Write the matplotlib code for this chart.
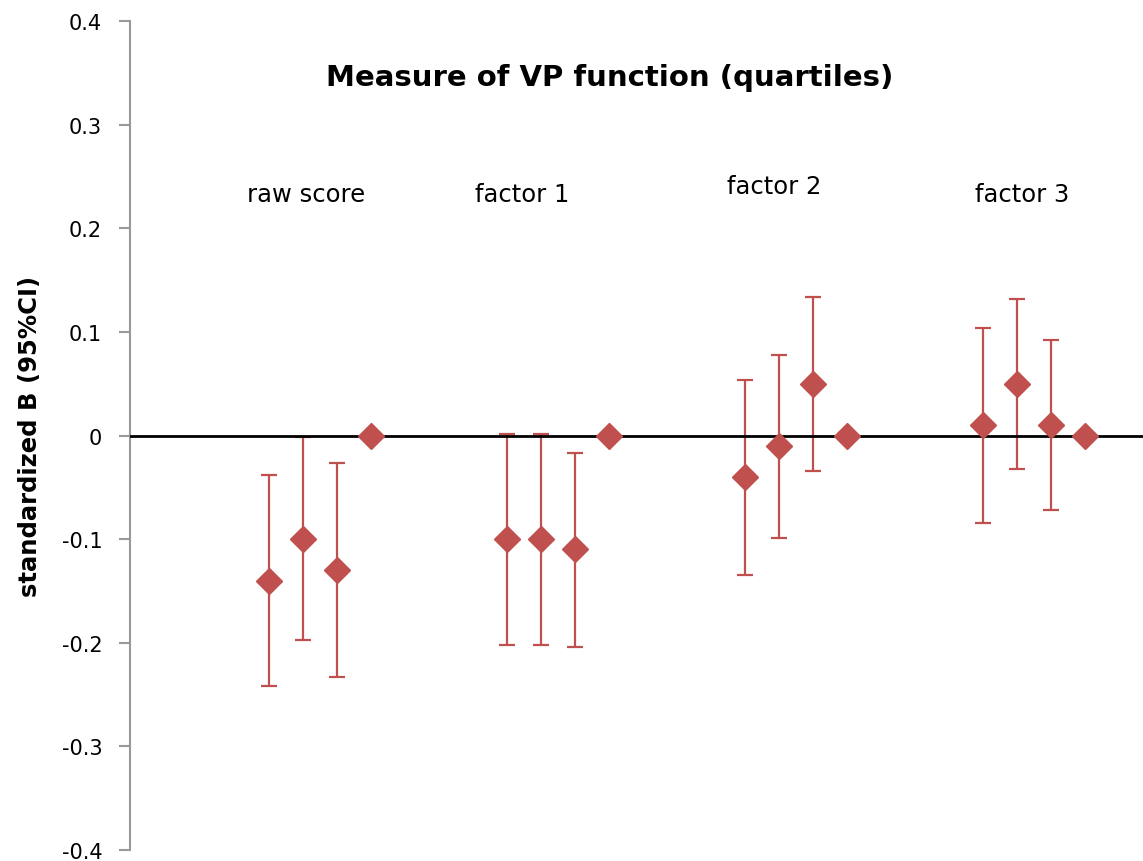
import matplotlib.pyplot as plt
import numpy as np

groups = ['raw score', 'factor 1', 'factor 2', 'factor 3']

# standardized B for quartiles 1-4 (q4 is the reference, 0)
beta = [
    [-0.14, -0.10, -0.13, 0.0],
    [-0.10, -0.10, -0.11, 0.0],
    [-0.04, -0.01, 0.05, 0.0],
    [0.01, 0.05, 0.01, 0.0],
]
ci_low = [
    [-0.242, -0.197, -0.233, 0.0],
    [-0.202, -0.202, -0.204, 0.0],
    [-0.135, -0.099, -0.034, 0.0],
    [-0.084, -0.032, -0.072, 0.0],
]
ci_high = [
    [-0.038, -0.001, -0.027, 0.0],
    [0.001, 0.001, -0.017, 0.0],
    [0.054, 0.078, 0.134, 0.0],
    [0.104, 0.132, 0.092, 0.0],
]

red = '#C0504D'

fig = plt.figure(figsize=(11.43, 8.62), dpi=100)
ax = fig.add_axes([130 / 1143, 11 / 862, 1 - 130 / 1143, (851 - 22) / 862])

for g in range(len(groups)):
    x = np.arange(4) + 7 * g
    b = np.array(beta[g])
    lo = np.array(ci_low[g])
    hi = np.array(ci_high[g])
    has_ci = hi != lo
    ax.errorbar(x[has_ci], b[has_ci], yerr=[b[has_ci] - lo[has_ci], hi[has_ci] - b[has_ci]],
                fmt='none', ecolor=red, elinewidth=1.6, capsize=6, capthick=1.6, zorder=2)
    ax.plot(x, b, linestyle='none', marker='D', markersize=13, color=red, zorder=4)

ax.axhline(0, color='black', linewidth=2, zorder=3)

ax.set_ylim(-0.4, 0.4)
ax.set_xlim(-4.09, 25.7)
ax.set_yticks(np.arange(-0.4, 0.41, 0.1))
ax.set_yticklabels(['-0.4', '-0.3', '-0.2', '-0.1', '0', '0.1', '0.2', '0.3', '0.4'])
ax.tick_params(axis='y', direction='out', length=8, width=1.5, color='#999999',
               labelsize=15, pad=12)
ax.set_xticks([])
for side in ['top', 'right', 'bottom']:
    ax.spines[side].set_visible(False)
ax.spines['left'].set_color('#999999')
ax.spines['left'].set_linewidth(1.5)

ax.set_ylabel('standardized B (95%CI)', fontsize=17.5, fontweight='bold', labelpad=14)

fig.text(610 / 1143, 1 - 78 / 862, 'Measure of VP function (quartiles)',
         ha='center', va='center', fontsize=21, fontweight='bold')

label_x = [1.08, 7.45, 14.86, 22.15]
label_y = [0.233, 0.233, 0.241, 0.233]
for name, lx, ly in zip(groups, label_x, label_y):
    ax.text(lx, ly, name, ha='center', va='center', fontsize=17.5)

fig.savefig('out.png', dpi=100)
